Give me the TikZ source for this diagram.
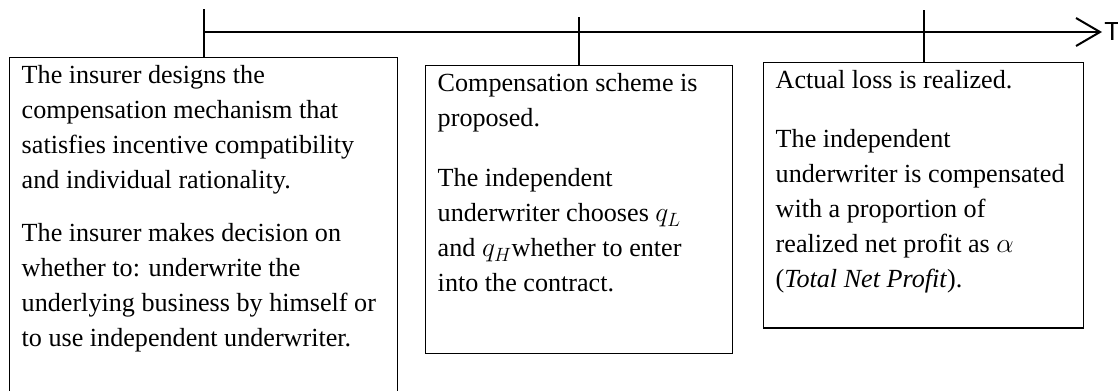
\documentclass[tikz,border=0pt]{standalone}
\usepackage{fontspec}
\setmainfont{Liberation Serif}
\newfontfamily\axisfont{Liberation Sans}
\usetikzlibrary{calc, arrows.meta}

\begin{document}
\begin{tikzpicture}[x=0.75pt, y=-0.75pt,
    stagebox/.style={draw, line width=1.1pt, anchor=north west, inner xsep=9pt, inner ysep=1pt,
      font=\fontsize{19.6}{26.25}\selectfont},
    axisline/.style={line width=1.5pt, -{Straight Barb[length=18pt, width=21pt]}},
    tickline/.style={line width=1.3pt}]
  \useasboundingbox (0,0) rectangle (1118,390);
  % the three stages
  \node[stagebox] (b1) at (9,57) {\parbox[t][255pt][t]{273pt}{\raggedright\strut
    The insurer designs the\\
    compensation mechanism that\\
    satisfies incentive compatibility\\
    and individual rationality.\\[13.5pt]
    The insurer makes decision on\\
    whether to: underwrite the\\
    underlying business by himself or\\
    to use independent underwriter.}};
  \node[stagebox] (b2) at (425,65) {\parbox[t][214pt][t]{212pt}{\raggedright\strut
    Compensation scheme is\\
    proposed.\\[19pt]
    The independent\\
    underwriter chooses $q_L$\\
    and $q_H$whether to enter\\
    into the contract.}};
  \node[stagebox] (b3) at (763,62) {\parbox[t][197pt][t]{222pt}{\raggedright\strut
    Actual loss is realized.\\[18pt]
    The independent\\
    underwriter is compensated\\
    with a proportion of\\
    realized net profit as $\alpha$\\
    (\textit{Total Net Profit}).}};
  % time axis
  \coordinate (tend) at (1102,32);
  \draw[axisline] (b1.north |- tend) -- (tend);
  \node[anchor=west, inner sep=1.5pt, font=\axisfont\fontsize{19.6}{22}\selectfont] (T) at (tend) {T};
  \draw[tickline] (b1.north) -- ++(0,-48);
  \draw[tickline] (b2.north) -- ++(0,-48);
  \draw[tickline] (b3.north) -- ++(0,-52);
\end{tikzpicture}
\end{document}
